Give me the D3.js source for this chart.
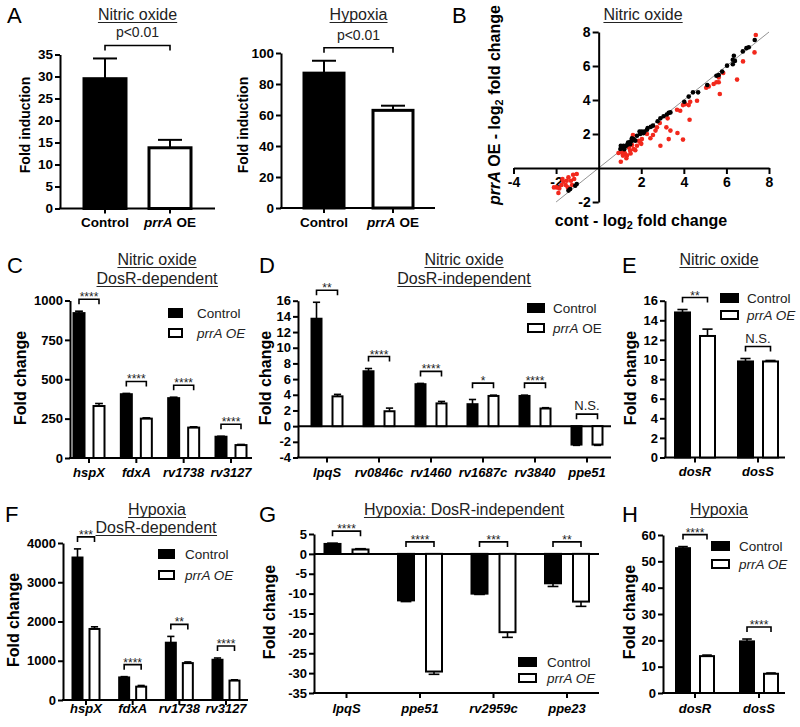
<!DOCTYPE html>
<html><head><meta charset="utf-8">
<script src="https://cdn.jsdelivr.net/npm/d3@7"></script>
<style>
body{margin:0;background:#fff;}
svg{display:block;font-family:"Liberation Sans",Arial,Helvetica,sans-serif;}
</style></head><body>
<svg id="chart" width="800" height="727"></svg>
<script>
// ---------------- DATA ----------------
const aCats = ["Control", "prrA OE"];
const aNoVals = [29.5, 13.8];
const aNoErr = [4.6, 1.8];
const aNoTicks = [0, 5, 10, 15, 20, 25, 30, 35];
const aHypVals = [87, 63];
const aHypErr = [8, 3];
const aHypTicks = [0, 20, 40, 60, 80, 100];
const aPLabel = "p<0.01";

const bBlack = [[7.33,7.53],[7.05,7.1],[6.94,7.05],[6.77,6.86],[6.35,6.6],[6.3,6.37],[6.4,6.3],[6.3,6.1],[6.03,6.02],[5.8,5.67],[5.64,5.47],[5.53,5.43],[5.1,4.88],[4.67,4.45],[4.43,4.45],[4.23,4.2],[4.02,3.9],[3.37,3.27],[3.29,3.24],[3.2,3.15],[3.05,3.04],[2.9,2.92],[2.77,2.75],[2.55,2.49],[2.45,2.42],[2.27,2.25],[2.15,2.15],[2.03,2.14],[1.95,2.0],[1.92,2.15],[1.8,1.9],[1.64,1.71],[1.56,1.61],[1.5,1.55],[1.43,1.49],[1.33,1.35],[1.26,1.27],[1.17,1.3],[1.09,1.2],[1.02,1.12],[1.04,1.31],[1.56,1.75],[1.72,1.61],[2.1,2.05],[2.3,2.35],[1.38,1.5],[1.2,1.1],[1.48,1.4],[-1.03,-0.94],[-1.1,-1.04],[-1.34,-1.24],[-1.42,-1.33]];
const bRed = [[7.38,7.82],[7.32,6.8],[6.78,6.27],[6.5,5.2],[5.85,5.59],[5.64,5.04],[5.53,5.04],[5.4,4.94],[5.64,5.33],[5.69,4.35],[5.17,4.8],[5.05,4.72],[4.62,3.96],[4.3,3.9],[4.23,3.7],[4.07,3.76],[3.96,3.7],[4.27,2.84],[3.83,3.37],[3.68,3.43],[3.24,2.92],[3.37,2.2],[3.29,1.7],[3.7,2.06],[3.96,1.67],[3.18,2.39],[2.9,1.31],[2.74,2.39],[2.87,2.65],[2.67,2.2],[2.55,1.94],[2.43,1.75],[2.27,2.0],[2.03,1.7],[1.95,1.51],[2.0,1.42],[1.8,1.31],[1.88,1.6],[1.64,1.12],[1.61,1.94],[1.72,1.05],[1.48,1.02],[1.42,1.2],[1.33,0.73],[1.25,0.82],[1.2,0.96],[1.14,0.73],[1.3,0.57],[1.1,0.9],[0.93,0.88],[1.04,0.37],[1.5,0.85],[1.57,1.35],[-1.03,-0.35],[-1.2,-0.4],[-1.42,-0.55],[-1.3,-0.75],[-1.5,-0.75],[-1.66,-0.8],[-1.15,-0.65],[-1.55,-1.0],[-1.75,-1.0],[-1.97,-1.14],[-1.85,-1.2],[-2.1,-1.14],[-1.89,-1.47],[-1.25,-1.0],[-1.45,-1.14],[-1.7,-0.65]];
const bXTicks = [-4, -2, 2, 4, 6, 8];
const bYTicks = [-2, 2, 4, 6, 8];

const cGenes = ["hspX", "fdxA", "rv1738", "rv3127"];
const cCtrl = [920, 405, 380, 135];
const cCtrlErr = [12, 5, 6, 3];
const cOE = [330, 250, 193, 82];
const cOEErr = [16, 5, 5, 4];
const cSig = ["****", "****", "****", "****"];
const cTicks = [0, 250, 500, 750, 1000];

const dGenes = ["lpqS", "rv0846c", "rv1460", "rv1687c", "rv3840", "ppe51"];
const dCtrl = [13.7, 7.0, 5.35, 2.8, 3.85, -2.35];
const dCtrlErr = [2.1, 0.35, 0.1, 0.6, 0.1, 0.1];
const dOE = [3.8, 1.9, 2.9, 3.85, 2.25, -2.35];
const dOEErr = [0.25, 0.4, 0.25, 0.1, 0.1, 0.1];
const dSig = ["**", "****", "****", "*", "****", "N.S."];
const dTicks = [-4, -2, 0, 2, 4, 6, 8, 10, 12, 14, 16];

const eGenes = ["dosR", "dosS"];
const eCtrl = [14.8, 9.8];
const eCtrlErr = [0.3, 0.3];
const eOE = [12.4, 9.8];
const eOEErr = [0.7, 0.1];
const eSig = ["**", "N.S."];
const eTicks = [0, 2, 4, 6, 8, 10, 12, 14, 16];

const fGenes = ["hspX", "fdxA", "rv1738", "rv3127"];
const fCtrl = [3630, 575, 1460, 1025];
const fCtrlErr = [220, 20, 160, 45];
const fOE = [1810, 340, 940, 495];
const fOEErr = [55, 30, 30, 20];
const fSig = ["***", "****", "**", "****"];
const fTicks = [0, 1000, 2000, 3000, 4000];

const gGenes = ["lpqS", "ppe51", "rv2959c", "ppe23"];
const gCtrl = [2.5, -11.7, -10.0, -7.4];
const gCtrlErr = [0.2, 0.3, 0.2, 0.8];
const gOE = [1.1, -29.6, -19.7, -12.0];
const gOEErr = [0.2, 0.7, 1.3, 1.2];
const gSig = ["****", "****", "***", "**"];
const gTicks = [-35, -30, -25, -20, -15, -10, -5, 0, 5];

const hGenes = ["dosR", "dosS"];
const hCtrl = [55, 19.6];
const hCtrlErr = [0.6, 0.9];
const hOE = [14, 7.3];
const hOEErr = [0.4, 0.3];
const hSig = ["****", "****"];
const hTicks = [0, 10, 20, 30, 40, 50, 60];

// ---------------- HELPERS ----------------
const svg = d3.select("#chart");
const plain = d => String(d);

function txt(g, x, y, parts, o = {}) {
  const size = o.size || 13;
  const t = g.append("text").attr("x", x).attr("y", y)
    .attr("font-size", size)
    .attr("font-weight", o.bold ? "bold" : "normal")
    .attr("text-anchor", o.anchor || "start")
    .attr("fill", o.fill || "#000");
  if (o.rotate) t.attr("transform", `rotate(-90 ${x} ${y})`);
  if (typeof parts === "string") parts = [{t: parts}];
  let prevSub = false;
  parts.forEach(p => {
    const s = t.append("tspan").text(p.t);
    if (p.i || o.italic) s.attr("font-style", "italic");
    if (p.sub) { s.attr("font-size", size * 0.68).attr("dy", 3); prevSub = true; }
    else if (prevSub) { s.attr("dy", -3); prevSub = false; }
  });
  return t;
}

function title(g, x, y, s) {
  const t = txt(g, x, y, s, {size: 16, anchor: "middle", fill: "#222"});
  const b = t.node().getBBox();
  g.append("line").attr("x1", b.x).attr("x2", b.x + b.width)
    .attr("y1", y + 2.5).attr("y2", y + 2.5)
    .attr("stroke", "#222").attr("stroke-width", 1.2);
}

function letter(x, y, s) {
  txt(svg, x, y, s, {size: 22});
}

function styleAxis(ax, size) {
  ax.selectAll("path.domain").attr("stroke", "#000").attr("stroke-width", 2);
  ax.selectAll(".tick line").attr("stroke", "#000").attr("stroke-width", 2);
  ax.selectAll(".tick text").attr("font-size", size || 13).attr("font-weight", "bold")
    .attr("fill", "#000").attr("font-family", '"Liberation Sans",Arial,sans-serif');
}

function bracket(g, xa, xb, by, label) {
  g.append("path").attr("d", `M${xa},${by + 5}V${by}H${xb}V${by + 5}`)
    .attr("fill", "none").attr("stroke", "#000").attr("stroke-width", 1.6);
  const ns = label === "N.S.";
  txt(g, (xa + xb) / 2, ns ? by - 4 : by + 2, label, {size: ns ? 13 : 12, anchor: "middle", fill: "#222"});
}

const oeItalic = [{t: "prrA OE", i: true}];
const oeMixed = [{t: "prrA", i: true}, {t: " OE"}];

function legend(g, L) {
  const items = [{fill: "#000", parts: [{t: "Control"}]}, {fill: "#fff", parts: L.oe}];
  items.forEach((it, k) => {
    const yy = L.y + k * L.dy;
    g.append("rect").attr("x", L.x + 1).attr("y", yy + 1).attr("width", L.w - 2).attr("height", L.h - 2)
      .attr("fill", it.fill).attr("stroke", "#000").attr("stroke-width", 2);
    txt(g, L.tx, yy + L.h / 2 + 5, it.parts, {size: 13.5, fill: "#222"});
  });
}

// -------- grouped bar panel --------
function barPanel(p) {
  const g = svg.append("g");
  const y = d3.scaleLinear().domain(p.yDomain).range(p.yRange);
  const x = d3.scalePoint().domain(p.cats).range([p.c0, p.c1]);
  const base = y(p.yDomain[0]);
  const zero = y(0);

  const ya = g.append("g").attr("transform", `translate(${p.x0},0)`)
    .call(d3.axisLeft(y).tickValues(p.yTicks).tickFormat(plain).tickSize(5).tickSizeOuter(0).tickPadding(2));
  styleAxis(ya);

  g.append("line").attr("x1", p.x0 - 1).attr("x2", p.x1).attr("y1", base).attr("y2", base)
    .attr("stroke", "#000").attr("stroke-width", 2);
  p.cats.forEach(c => {
    g.append("line").attr("x1", x(c)).attr("x2", x(c)).attr("y1", base).attr("y2", base + 5)
      .attr("stroke", "#000").attr("stroke-width", 2);
    txt(g, x(c), p.labY, c, {size: 13, bold: true, italic: true, anchor: "middle"});
  });
  if (p.yDomain[0] < 0) {
    g.append("line").attr("x1", p.x0).attr("x2", p.x1).attr("y1", zero).attr("y2", zero)
      .attr("stroke", "#000").attr("stroke-width", 2);
  }

  const series = [
    {v: p.ctrl, e: p.ctrlErr, fill: "#000", pos: c => x(c) - p.gap / 2 - p.w},
    {v: p.oe, e: p.oeErr, fill: "#fff", pos: c => x(c) + p.gap / 2}
  ];
  const cap = Math.min(p.w * 0.6, 24);
  series.forEach(s => {
    p.cats.forEach((c, i) => {
      const v = s.v[i], e = s.e[i];
      const yv = y(v);
      const left = s.pos(c);
      const cx = left + p.w / 2;
      const ye = y(v + Math.sign(v) * e);
      g.append("line").attr("x1", cx).attr("x2", cx).attr("y1", yv).attr("y2", ye)
        .attr("stroke", "#000").attr("stroke-width", 1.6);
      g.append("line").attr("x1", cx - cap / 2).attr("x2", cx + cap / 2).attr("y1", ye).attr("y2", ye)
        .attr("stroke", "#000").attr("stroke-width", 1.6);
      g.append("rect").attr("x", left + 1).attr("y", Math.min(yv, zero))
        .attr("width", p.w - 2).attr("height", Math.abs(zero - yv))
        .attr("fill", s.fill).attr("stroke", "#000").attr("stroke-width", 2);
    });
  });

  p.cats.forEach((c, i) => {
    const tops = [0, p.ctrl[i] > 0 ? p.ctrl[i] + p.ctrlErr[i] : 0, p.oe[i] > 0 ? p.oe[i] + p.oeErr[i] : 0];
    const top = y(d3.max(tops));
    const xa = x(c) - p.gap / 2 - p.w / 2, xb = x(c) + p.gap / 2 + p.w / 2;
    bracket(g, xa, xb, top - 12, p.sig[i]);
  });

  txt(g, p.ytX, p.ytY, "Fold change", {size: 16, bold: true, anchor: "middle", rotate: true});
  p.titles.forEach(t => title(g, t.x, t.y, t.s));
  legend(g, p.legend);
}

// -------- panel A (single bars) --------
function panelA(p) {
  const g = svg.append("g");
  const y = d3.scaleLinear().domain(p.yDomain).range(p.yRange);
  const x = d3.scalePoint().domain(aCats).range([p.c0, p.c1]);
  const base = y(0);
  const ya = g.append("g").attr("transform", `translate(${p.x0},0)`)
    .call(d3.axisLeft(y).tickValues(p.yTicks).tickFormat(plain).tickSize(5).tickSizeOuter(0).tickPadding(2));
  styleAxis(ya, 13.5);
  g.append("line").attr("x1", p.x0 - 1).attr("x2", p.x1).attr("y1", base).attr("y2", base)
    .attr("stroke", "#000").attr("stroke-width", 2);
  const fills = ["#000", "#fff"];
  aCats.forEach((c, i) => {
    g.append("line").attr("x1", x(c)).attr("x2", x(c)).attr("y1", base).attr("y2", base + 5)
      .attr("stroke", "#000").attr("stroke-width", 2);
    const yv = y(p.vals[i]), ye = y(p.vals[i] + p.err[i]);
    g.append("line").attr("x1", x(c)).attr("x2", x(c)).attr("y1", yv).attr("y2", ye)
      .attr("stroke", "#000").attr("stroke-width", 2);
    g.append("line").attr("x1", x(c) - 12).attr("x2", x(c) + 12).attr("y1", ye).attr("y2", ye)
      .attr("stroke", "#000").attr("stroke-width", 2);
    g.append("rect").attr("x", x(c) - p.w / 2 + 1.5).attr("y", yv)
      .attr("width", p.w - 3).attr("height", base - yv)
      .attr("fill", fills[i]).attr("stroke", "#000").attr("stroke-width", 3);
  });
  txt(g, x(aCats[0]), 227, "Control", {size: 13.5, bold: true, anchor: "middle"});
  txt(g, x(aCats[1]), 227, oeMixed, {size: 13.5, bold: true, anchor: "middle"});
  const top = y(d3.max(p.vals.map((v, i) => v + p.err[i]))) - 13;
  const xa = x(aCats[0]), xb = x(aCats[1]);
  g.append("path").attr("d", `M${xa},${top + 5}V${top}H${xb}V${top + 5}`)
    .attr("fill", "none").attr("stroke", "#000").attr("stroke-width", 1.6);
  txt(g, (xa + xb) / 2, top - 8, aPLabel, {size: 14, anchor: "middle", fill: "#222"});
  txt(g, p.ytX, 125, "Fold induction", {size: 14, bold: true, anchor: "middle", rotate: true});
  title(g, (xa + xb) / 2, 20, p.title);
}

// ---------------- DRAW ----------------
letter(7, 23, "A"); letter(452, 23, "B"); letter(7, 273, "C"); letter(259, 273, "D");
letter(622, 273, "E"); letter(5, 522, "F"); letter(259, 522, "G"); letter(622, 522, "H");

panelA({vals: aNoVals, err: aNoErr, yDomain: [0, 35], yRange: [208.5, 54.5], yTicks: aNoTicks,
  x0: 60, x1: 215, c0: 105, c1: 170, w: 45, ytX: 30, title: "Nitric oxide"});
panelA({vals: aHypVals, err: aHypErr, yDomain: [0, 100], yRange: [208, 53], yTicks: aHypTicks,
  x0: 281, x1: 435, c0: 324, c1: 393, w: 43, ytX: 248, title: "Hypoxia"});

// panel B scatter
(function () {
  const g = svg.append("g");
  const x = d3.scaleLinear().domain([-4, 8]).range([513.5, 769]);
  const y = d3.scaleLinear().domain([-2, 8]).range([202, 32]);
  g.append("line").attr("x1", x(-2)).attr("y1", y(-2)).attr("x2", x(8)).attr("y2", y(8))
    .attr("stroke", "#777").attr("stroke-width", 0.8);
  const xa = g.append("g").attr("transform", `translate(0,${y(0)})`)
    .call(d3.axisBottom(x).tickValues(bXTicks).tickFormat(plain).tickSize(6).tickSizeOuter(0).tickPadding(3));
  styleAxis(xa, 14);
  const ya = g.append("g").attr("transform", `translate(${x(0)},0)`)
    .call(d3.axisLeft(y).tickValues(bYTicks).tickFormat(plain).tickSize(6).tickSizeOuter(0).tickPadding(2));
  styleAxis(ya, 14);
  g.selectAll("circle.r").data(bRed).join("circle").attr("class", "r")
    .attr("cx", d => x(d[0])).attr("cy", d => y(d[1])).attr("r", 2.3).attr("fill", "#f2281c");
  g.selectAll("circle.k").data(bBlack).join("circle").attr("class", "k")
    .attr("cx", d => x(d[0])).attr("cy", d => y(d[1])).attr("r", 2.3).attr("fill", "#000");
  txt(g, 641, 226, [{t: "cont - log"}, {t: "2", sub: true}, {t: " fold change"}], {size: 16, bold: true, anchor: "middle"});
  txt(g, 500, 105, [{t: "prrA", i: true}, {t: " OE - log"}, {t: "2", sub: true}, {t: " fold change"}], {size: 16, bold: true, anchor: "middle", rotate: true});
  title(g, 643, 20, "Nitric oxide");
})();

barPanel({cats: cGenes, ctrl: cCtrl, ctrlErr: cCtrlErr, oe: cOE, oeErr: cOEErr, sig: cSig,
  yDomain: [0, 1000], yRange: [458, 300.5], yTicks: cTicks, x0: 70, x1: 252, c0: 89, c1: 231,
  w: 13, gap: 7, labY: 477, ytX: 26, ytY: 378,
  titles: [{x: 157, y: 265, s: "Nitric oxide"}, {x: 157, y: 284, s: "DosR-dependent"}],
  legend: {x: 168, y: 308, w: 15, h: 10, dy: 20, tx: 197, oe: oeItalic}});

barPanel({cats: dGenes, ctrl: dCtrl, ctrlErr: dCtrlErr, oe: dOE, oeErr: dOEErr, sig: dSig,
  yDomain: [-4, 16], yRange: [457.5, 300.7], yTicks: dTicks, x0: 298, x1: 611, c0: 327, c1: 587,
  w: 12, gap: 9, labY: 477, ytX: 271, ytY: 378,
  titles: [{x: 464, y: 265, s: "Nitric oxide"}, {x: 464, y: 284, s: "DosR-independent"}],
  legend: {x: 527, y: 303, w: 18, h: 10, dy: 20, tx: 553, oe: oeMixed}});

barPanel({cats: eGenes, ctrl: eCtrl, ctrlErr: eCtrlErr, oe: eOE, oeErr: eOEErr, sig: eSig,
  yDomain: [0, 16], yRange: [457.5, 300.7], yTicks: eTicks, x0: 665, x1: 785, c0: 695, c1: 758,
  w: 17, gap: 8, labY: 476, ytX: 636, ytY: 378,
  titles: [{x: 719, y: 265, s: "Nitric oxide"}],
  legend: {x: 720, y: 293, w: 19, h: 10, dy: 17, tx: 747, oe: oeItalic}});

barPanel({cats: fGenes, ctrl: fCtrl, ctrlErr: fCtrlErr, oe: fOE, oeErr: fOEErr, sig: fSig,
  yDomain: [0, 4000], yRange: [700, 543], yTicks: fTicks, x0: 63, x1: 248, c0: 86, c1: 226,
  w: 12, gap: 5, labY: 713, ytX: 19, ytY: 620,
  titles: [{x: 157, y: 515, s: "Hypoxia"}, {x: 156, y: 533, s: "DosR-dependent"}],
  legend: {x: 158, y: 549, w: 17, h: 10, dy: 21, tx: 185, oe: oeItalic}});

barPanel({cats: gGenes, ctrl: gCtrl, ctrlErr: gCtrlErr, oe: gOE, oeErr: gOEErr, sig: gSig,
  yDomain: [-35, 5], yRange: [693, 534], yTicks: gTicks, x0: 314, x1: 599, c0: 346.5, c1: 567,
  w: 18, gap: 10, labY: 713, ytX: 275, ytY: 612,
  titles: [{x: 464, y: 515, s: "Hypoxia: DosR-independent"}],
  legend: {x: 518, y: 657, w: 19, h: 10, dy: 16, tx: 547, oe: oeItalic}});

barPanel({cats: hGenes, ctrl: hCtrl, ctrlErr: hCtrlErr, oe: hOE, oeErr: hOEErr, sig: hSig,
  yDomain: [0, 60], yRange: [693, 535], yTicks: hTicks, x0: 663, x1: 785, c0: 695, c1: 759,
  w: 16, gap: 8, labY: 713, ytX: 635, ytY: 612,
  titles: [{x: 719, y: 515, s: "Hypoxia"}],
  legend: {x: 711, y: 541, w: 19, h: 10, dy: 18, tx: 739, oe: oeItalic}});
</script>
</body></html>
